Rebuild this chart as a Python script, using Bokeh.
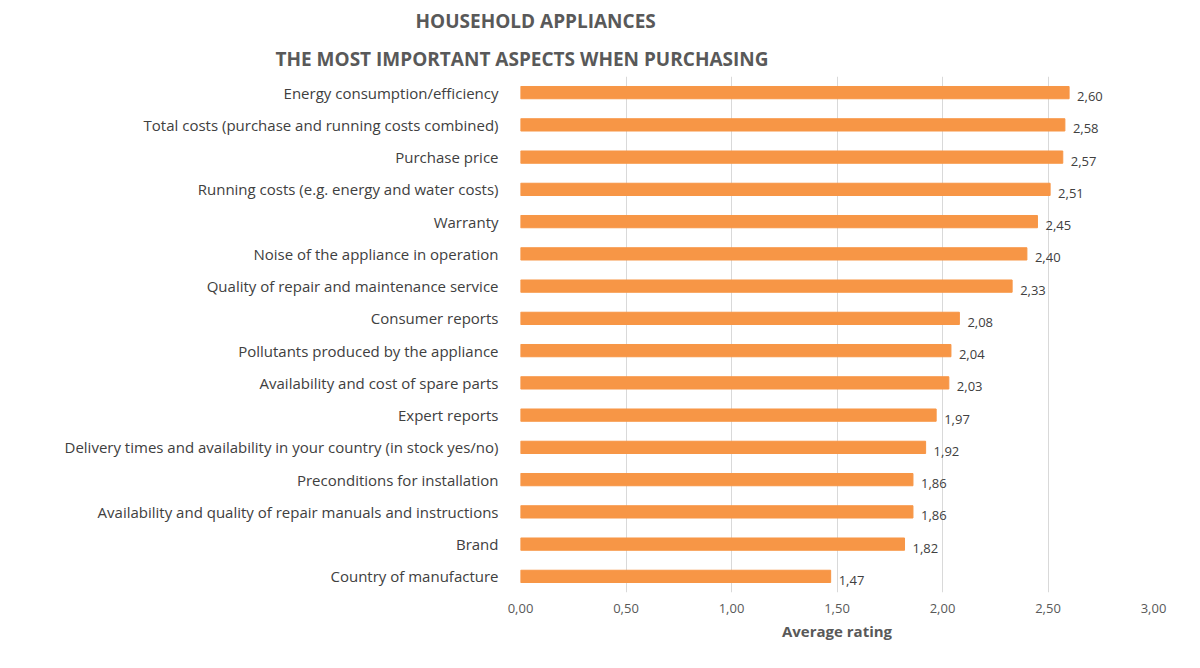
from bokeh.plotting import figure
from bokeh.models import ColumnDataSource, FixedTicker, Title
from bokeh.core.properties import value
from bokeh.embed import file_html
from bokeh.resources import INLINE

categories = ["Energy consumption/efficiency","Total costs (purchase and running costs combined)","Purchase price",
 "Running costs (e.g. energy and water costs)","Warranty","Noise of the appliance in operation",
 "Quality of repair and maintenance service","Consumer reports","Pollutants produced by the appliance",
 "Availability and cost of spare parts","Expert reports","Delivery times and availability in your country (in stock yes/no)",
 "Preconditions for installation","Availability and quality of repair manuals and instructions","Brand","Country of manufacture"]
values = [2.60,2.58,2.57,2.51,2.45,2.40,2.33,2.08,2.04,2.03,1.97,1.92,1.86,1.86,1.82,1.47]
ticks = [0,0.5,1,1.5,2,2.5,3]

cats = categories[::-1]
vals = values[::-1]
src = ColumnDataSource(dict(c=cats, v=vals, lab=[f"{x:.2f}".replace(".", ",") for x in vals]))

F = "Open Sans"
p = figure(width=1184, height=652, y_range=cats, x_range=(0, 3), output_backend="svg",
           toolbar_location=None, min_border_left=520, min_border_right=31, min_border_bottom=60, min_border_top=20)
p.title.text = "HOUSEHOLD APPLIANCES"
p.title.text_font = F; p.title.text_font_size = "19px"; p.title.text_color = "#595959"
p.title.align = "left"; p.title.offset = -105
p.add_layout(Title(text="THE MOST IMPORTANT ASPECTS WHEN PURCHASING", text_font=F, text_font_size="19px",
                   text_color="#595959", align="left", offset=-245), "above")
p.hbar(y="c", right="v", height=0.38, source=src, color="#F79646")
p.text(x="v", y="c", text="lab", source=src, x_offset=8, y_offset=4, text_baseline="middle",
       text_font=value(F), text_font_size="13px", text_color="#404040")
p.outline_line_color = None
p.ygrid.grid_line_color = None
p.xgrid.grid_line_color = "#D9D9D9"
p.xaxis.ticker = FixedTicker(ticks=ticks)
p.xaxis.major_label_overrides = {t: f"{t:.2f}".replace(".", ",") for t in ticks}
p.xaxis.axis_line_color = None; p.xaxis.major_tick_line_color = None; p.xaxis.minor_tick_line_color = None
p.yaxis.axis_line_color = None; p.yaxis.major_tick_line_color = None
p.xaxis.axis_label = "Average rating"
p.xaxis.axis_label_text_font = F; p.xaxis.axis_label_text_font_size = "15px"
p.xaxis.axis_label_text_font_style = "bold"; p.xaxis.axis_label_text_color = "#595959"
p.xaxis.major_label_text_font = F; p.xaxis.major_label_text_font_size = "13px"; p.xaxis.major_label_text_color = "#595959"
p.yaxis.major_label_text_font = F; p.yaxis.major_label_text_font_size = "15px"; p.yaxis.major_label_text_color = "#404040"
p.yaxis.major_label_standoff = 16
p.y_range.range_padding = 0
open("out.html", "w").write(file_html(p, INLINE))
